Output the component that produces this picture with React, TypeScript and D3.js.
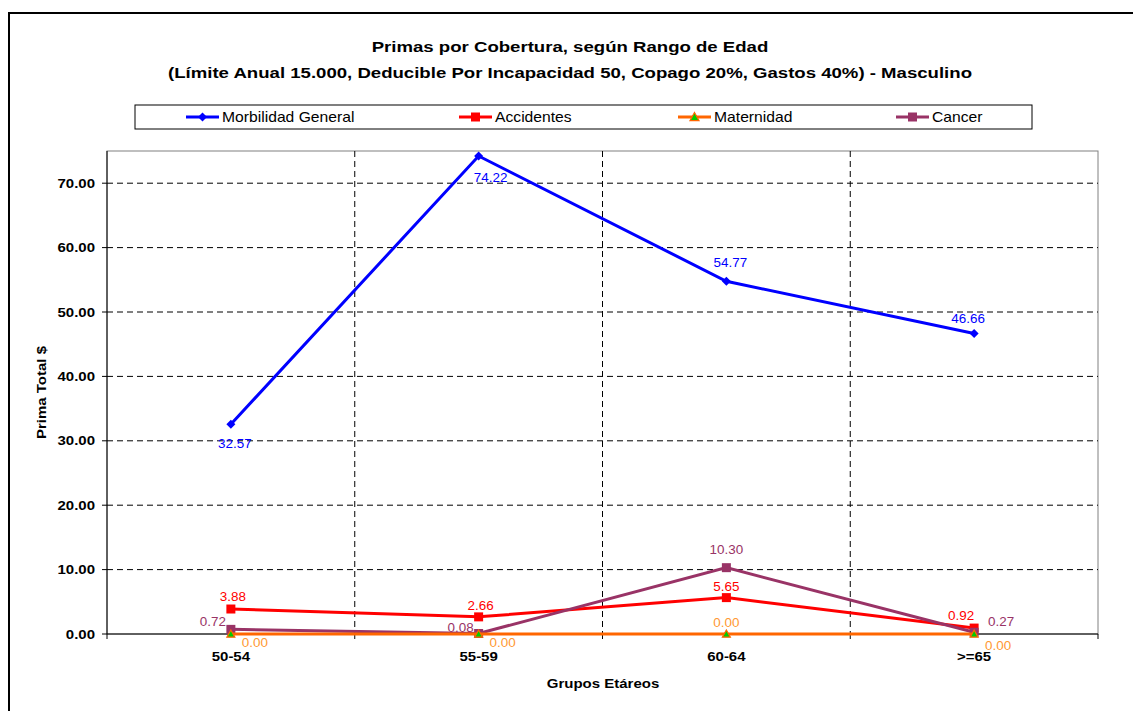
import React, { useRef, useEffect } from 'react'
import * as d3 from 'd3'

const categories = ['50-54', '55-59', '60-64', '>=65']
const morbilidad = [32.57, 74.22, 54.77, 46.66]
const accidentes = [3.88, 2.66, 5.65, 0.92]
const maternidad = [0, 0, 0, 0]
const cancer = [0.72, 0.08, 10.3, 0.27]
const yTicks = [0, 10, 20, 30, 40, 50, 60, 70]

const W = 1133
const H = 711
const font = '"Liberation Sans", Arial, sans-serif'

// text is drawn a bit wider than the font, like the original renderer
const txt = (sel: any, x: number, y: number, s: string, o: any = {}) => {
    const sx = o.bold ? 1.2 : 1.12
    const rot = o.rotate ? ' rotate(-90)' : ''
    return sel.append('text')
        .attr('transform', `translate(${x},${y})${rot} scale(${sx},1)`)
        .attr('text-anchor', o.anchor || 'middle')
        .attr('font-family', font)
        .attr('font-weight', o.bold ? 'bold' : 'normal')
        .attr('font-size', o.size || 12)
        .attr('fill', o.fill || '#000')
        .text(s)
}

const App = () => {
    const ref = useRef<SVGSVGElement>(null)

    useEffect(() => {
        if (!ref.current) return
        const svg = d3.select(ref.current)
        svg.selectAll('*').remove()

        const left = 107, right = 1098, top = 151, bottom = 634

        // outer chart frame, runs past the window edges
        svg.append('rect')
            .attr('x', 9).attr('y', 13).attr('width', 1300).attr('height', 900)
            .attr('fill', '#fff').attr('stroke', '#000').attr('stroke-width', 2)

        txt(svg, 570, 52, 'Primas por Cobertura, según Rango de Edad', { bold: true, size: 15.5 })
        txt(svg, 570, 78, '(Límite Anual 15.000, Deducible Por Incapacidad 50, Copago 20%, Gastos 40%) - Masculino', { bold: true, size: 15.5 })

        const x = d3.scaleBand().domain(categories).range([left, right])
        const y = d3.scaleLinear().domain([0, 75]).range([bottom, top])
        const cx = (c: string) => (x(c) as number) + x.bandwidth() / 2

        // plot frame
        svg.append('rect')
            .attr('x', left).attr('y', top).attr('width', right - left).attr('height', bottom - top)
            .attr('fill', '#fff').attr('stroke', '#808080').attr('stroke-width', 1)

        // grid
        svg.append('g').selectAll('line').data(yTicks.filter(t => t > 0)).join('line')
            .attr('x1', left).attr('x2', right)
            .attr('y1', d => y(d)).attr('y2', d => y(d))
            .attr('stroke', '#000').attr('stroke-dasharray', '6,4').attr('stroke-width', 1)
        svg.append('g').selectAll('line').data(categories.slice(1)).join('line')
            .attr('x1', d => x(d) as number).attr('x2', d => x(d) as number)
            .attr('y1', top).attr('y2', bottom)
            .attr('stroke', '#000').attr('stroke-dasharray', '6,4').attr('stroke-width', 1)

        // y axis
        svg.append('line').attr('x1', left).attr('x2', left).attr('y1', top).attr('y2', bottom).attr('stroke', '#000')
        svg.append('g').selectAll('line').data(yTicks).join('line')
            .attr('x1', left - 5).attr('x2', left).attr('y1', d => y(d)).attr('y2', d => y(d)).attr('stroke', '#000')
        const fmt = d3.format('.2f')
        yTicks.forEach(t => txt(svg, 95, y(t) + 4.5, fmt(t), { bold: true, size: 12.5, anchor: 'end' }))

        // x axis
        svg.append('line').attr('x1', left).attr('x2', right).attr('y1', bottom).attr('y2', bottom).attr('stroke', '#000')
        svg.append('g').selectAll('line').data([left, ...categories.slice(1).map(c => x(c) as number), right]).join('line')
            .attr('x1', d => d).attr('x2', d => d).attr('y1', bottom).attr('y2', bottom + 5).attr('stroke', '#000')
        categories.forEach(c => txt(svg, cx(c), 661, c, { bold: true, size: 12.5 }))

        txt(svg, 603, 688, 'Grupos Etáreos', { bold: true, size: 12.5 })
        txt(svg, 46, (top + bottom) / 2, 'Prima Total $', { bold: true, size: 12.5, rotate: true })

        const series = [
            { name: 'Morbilidad General', values: morbilidad, color: '#0000ff', label: '#0000ff', marker: 'diamond', fill: '#0000ff',
              offs: [[4, 20], [12, 22], [4, -18], [-6, -15]] },
            { name: 'Accidentes', values: accidentes, color: '#ff0000', label: '#ff0000', marker: 'square', fill: '#ff0000',
              offs: [[2, -12], [2, -11], [0, -11], [-13, -12]] },
            { name: 'Maternidad', values: maternidad, color: '#ff6600', label: '#ff9933', marker: 'triangle', fill: '#00cc00',
              offs: [[24, 9], [24, 9], [0, -11], [24, 12]] },
            { name: 'Cancer', values: cancer, color: '#993366', label: '#993366', marker: 'square', fill: '#993366',
              offs: [[-18, -7], [-18, -5], [0, -18], [27, -10]] },
        ]

        const markerPath = (kind: string, s: number) => {
            if (kind === 'diamond') return `M0,${-s}L${s},0L0,${s}L${-s},0Z`
            if (kind === 'triangle') return `M0,${-s}L${s},${s * 0.8}L${-s},${s * 0.8}Z`
            return `M${-s},${-s}H${s}V${s}H${-s}Z`
        }

        const line = d3.line<number>().x((_, i) => cx(categories[i])).y(d => y(d))

        // maternidad last, it lies on the zero line
        const drawOrder = [0, 1, 3, 2]
        drawOrder.forEach(si => {
            const s = series[si]
            svg.append('path').datum(s.values).attr('d', line)
                .attr('fill', 'none').attr('stroke', s.color).attr('stroke-width', 3)
            svg.append('g').selectAll('path').data(s.values).join('path')
                .attr('transform', (d, i) => `translate(${cx(categories[i])},${y(d)})`)
                .attr('d', markerPath(s.marker, s.marker === 'triangle' ? 4 : 4.5))
                .attr('fill', s.fill).attr('stroke', s.marker === 'triangle' ? s.color : 'none').attr('stroke-width', 1.2)
        })
        series.forEach(s => {
            s.values.forEach((v, i) => {
                txt(svg, cx(categories[i]) + s.offs[i][0], y(v) + s.offs[i][1] + 4, fmt(v), { size: 12, fill: s.label })
            })
        })

        // legend
        svg.append('rect').attr('x', 135).attr('y', 105).attr('width', 897).attr('height', 24)
            .attr('fill', '#fff').attr('stroke', '#000').attr('stroke-width', 1)
        const legendX = [186, 459, 678, 896]
        series.forEach((s, i) => {
            const g = svg.append('g').attr('transform', `translate(${legendX[i]},117)`)
            g.append('line').attr('x1', 0).attr('x2', 33).attr('stroke', s.color).attr('stroke-width', 3)
            g.append('path').attr('transform', 'translate(16.5,0)')
                .attr('d', markerPath(s.marker, 4.5))
                .attr('fill', s.fill).attr('stroke', s.marker === 'triangle' ? s.color : 'none').attr('stroke-width', 1.2)
            txt(g, 36, 5, s.name, { size: 14, anchor: 'start' })
        })
    }, [])

    return (
        <svg ref={ref} width={W} height={H} style={{ position: 'absolute', left: 0, top: 0, background: '#fff' }}></svg>
    )
}

export default App
